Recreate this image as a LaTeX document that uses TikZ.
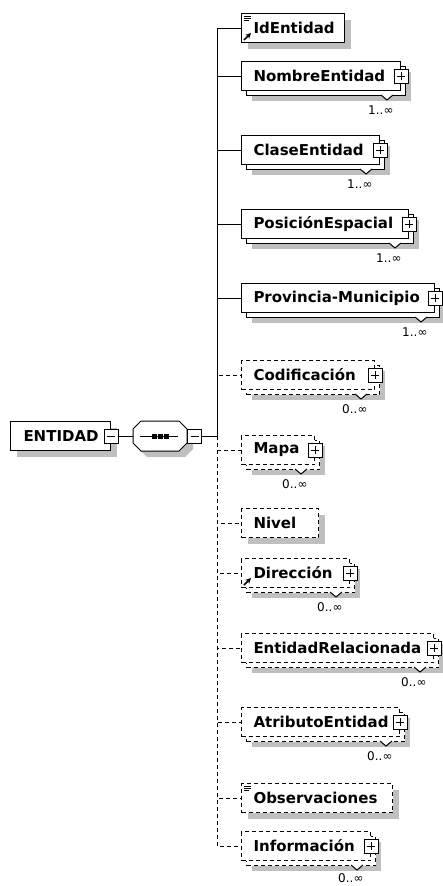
\documentclass[tikz,border=0pt]{standalone}
\usepackage{fontspec}
\setmainfont{DejaVu Sans}
\usetikzlibrary{positioning,shadows}
\hyphenpenalty=10000

\begin{document}
\begin{tikzpicture}[
    x=1pt, y=-1pt, line width=1pt,
    box/.style={draw, fill=white, anchor=west, minimum height=29, inner xsep=12,
        text width=#1, align=left, font=\fontsize{15}{17}\selectfont\bfseries},
    single/.style={box=#1, general shadow={fill=black!25, shadow xshift=6pt, shadow yshift=-6pt}},
    multi/.style={box=#1, general shadow={fill=black!25, shadow xshift=10pt, shadow yshift=-10pt},
        general shadow={draw, fill=white, shadow xshift=5pt, shadow yshift=-5pt}},
    optbox/.style={dash pattern=on 4pt off 3pt},
    optline/.style={dash pattern=on 4pt off 3pt},
    plusbox/.style={draw, solid, fill=white, minimum size=14, inner sep=0,
        path picture={\draw[line width=0.8pt] ([xshift=3pt]path picture bounding box.west) -- ([xshift=-3pt]path picture bounding box.east)
            ([yshift=-3pt]path picture bounding box.north) -- ([yshift=3pt]path picture bounding box.south);}},
    minusbox/.style={draw, fill=white, minimum size=14, inner sep=0,
        path picture={\draw[line width=0.8pt] ([xshift=3pt]path picture bounding box.west) -- ([xshift=-3pt]path picture bounding box.east);}},
    seqbox/.style={minimum width=54, minimum height=30, inner sep=0, outer sep=0},
    mult/.style={anchor=east, inner sep=0, font=\fontsize{12}{14}\selectfont},
    refarrow/.style={-stealth, line width=1.5pt}
]
    \useasboundingbox (0,0) rectangle (443,886);

    % Root element and sequence
    \node[single=74pt, inner xsep=13] (entidad) at (10,436) {ENTIDAD};
    \node[minusbox] (entidad-m) at (entidad.east) {};
    \node[seqbox] (seq) at (160,436) {};
    \fill[black!25] ([shift={(14,6)}]seq.north west) -- ++(38,0) -- ++(8,8) -- ++(0,14) -- ++(-8,8)
        -- ++(-38,0) -- ++(-8,-8) -- ++(0,-14) -- cycle;
    \draw[fill=white] ([shift={(8,0)}]seq.north west) -- ++(38,0) -- ++(8,8) -- ++(0,14) -- ++(-8,8)
        -- ++(-38,0) -- ++(-8,-8) -- ++(0,-14) -- cycle;
    \draw ([xshift=7]seq.west) -- ([xshift=-9]seq.east);
    \fill ([xshift=-6]seq.center) +(-2.5,-2.5) rectangle +(2.5,2.5);
    \fill (seq.center) +(-2.5,-2.5) rectangle +(2.5,2.5);
    \fill ([xshift=6]seq.center) +(-2.5,-2.5) rectangle +(2.5,2.5);
    \node[minusbox, right=0pt of seq] (seq-m) {};
    \coordinate (split) at (217,436);

    % Required children
    \node[single=79pt] (id) at (241,28) {IdEntidad};
    \node[multi=135pt] (nombre) at (241,76) {NombreEntidad};
    \node[multi=114pt] (clase) at (241,150) {ClaseEntidad};
    \node[multi=143pt] (posicion) at (241,224) {PosiciónEspacial};
    \node[multi=169pt] (provincia) at (241,298) {Provincia-Municipio};

    % Optional children
    \node[multi=109pt, optbox] (codificacion) at (241,375) {Codificación};
    \node[multi=49pt, optbox] (mapa) at (241,450) {Mapa};
    \node[single=53pt, optbox] (nivel) at (241,523) {Nivel};
    \node[multi=84pt, optbox] (direccion) at (241,573) {Dirección};
    \node[multi=168pt, optbox] (relacionada) at (241,648) {EntidadRelacionada};
    \node[multi=134pt, optbox] (atributo) at (241,722) {AtributoEntidad};
    \node[single=127pt, optbox] (observaciones) at (241,798) {Observaciones};
    \node[multi=105pt, optbox] (informacion) at (241,846) {Información};

    % Expand buttons
    \node[plusbox] (nombre-p) at (nombre.east) {};
    \node[plusbox] (clase-p) at (clase.east) {};
    \node[plusbox] (posicion-p) at (posicion.east) {};
    \node[plusbox] (provincia-p) at (provincia.east) {};
    \node[plusbox] (codificacion-p) at (codificacion.east) {};
    \node[plusbox] (mapa-p) at (mapa.east) {};
    \node[plusbox] (direccion-p) at (direccion.east) {};
    \node[plusbox] (relacionada-p) at (relacionada.east) {};
    \node[plusbox] (atributo-p) at (atributo.east) {};
    \node[plusbox] (informacion-p) at (informacion.east) {};

    % Occurrence markers
    \draw[fill=white] ([shift={(-20,4)}]nombre.south east) -- ++(6,5) -- ++(6,-5);
    \draw[fill=white] ([shift={(-20,4)}]clase.south east) -- ++(6,5) -- ++(6,-5);
    \draw[fill=white] ([shift={(-20,4)}]posicion.south east) -- ++(6,5) -- ++(6,-5);
    \draw[fill=white] ([shift={(-20,4)}]provincia.south east) -- ++(6,5) -- ++(6,-5);
    \draw[fill=white] ([shift={(-20,4)}]codificacion.south east) -- ++(6,5) -- ++(6,-5);
    \draw[fill=white] ([shift={(-20,4)}]mapa.south east) -- ++(6,5) -- ++(6,-5);
    \draw[fill=white] ([shift={(-20,4)}]direccion.south east) -- ++(6,5) -- ++(6,-5);
    \draw[fill=white] ([shift={(-20,4)}]relacionada.south east) -- ++(6,5) -- ++(6,-5);
    \draw[fill=white] ([shift={(-20,4)}]atributo.south east) -- ++(6,5) -- ++(6,-5);
    \draw[fill=white] ([shift={(-20,4)}]informacion.south east) -- ++(6,5) -- ++(6,-5);

    \node[mult] (nombre-n) at ([shift={(-7,19)}]nombre.south east) {1..∞};
    \node[mult] (clase-n) at ([shift={(-7,19)}]clase.south east) {1..∞};
    \node[mult] (posicion-n) at ([shift={(-7,19)}]posicion.south east) {1..∞};
    \node[mult] (provincia-n) at ([shift={(-7,19)}]provincia.south east) {1..∞};
    \node[mult] (codificacion-n) at ([shift={(-7,19)}]codificacion.south east) {0..∞};
    \node[mult] (mapa-n) at ([shift={(-7,19)}]mapa.south east) {0..∞};
    \node[mult] (direccion-n) at ([shift={(-7,19)}]direccion.south east) {0..∞};
    \node[mult] (relacionada-n) at ([shift={(-7,19)}]relacionada.south east) {0..∞};
    \node[mult] (atributo-n) at ([shift={(-7,19)}]atributo.south east) {0..∞};
    \node[mult] (informacion-n) at ([shift={(-7,17)}]informacion.south east) {0..∞};

    % Icons (text content, reference)
    \draw[line width=0.7pt] ([shift={(3,3)}]id.north west) -- ++(7,0) ++(-7,2) -- ++(7,0) ++(-7,2) -- ++(5,0);
    \draw[line width=0.7pt] ([shift={(3,3)}]observaciones.north west) -- ++(7,0) ++(-7,2) -- ++(7,0) ++(-7,2) -- ++(5,0);
    \draw[refarrow] ([shift={(3,-3)}]id.south west) -- ++(7,-7);
    \draw[refarrow] ([shift={(3,-3)}]direccion.south west) -- ++(7,-7);

    % Connections
    \draw (entidad-m) -- (seq);
    \draw (seq-m) -- (split);
    \draw (split) |- (id.west)
          (split) |- (nombre.west)
          (split) |- (clase.west)
          (split) |- (posicion.west)
          (split) |- (provincia.west);
    \draw[optline] (split) |- (codificacion.west)
          (split) |- (mapa.west)
          (split) |- (nivel.west)
          (split) |- (direccion.west)
          (split) |- (relacionada.west)
          (split) |- (atributo.west)
          (split) |- (observaciones.west)
          (split) |- (informacion.west);
\end{tikzpicture}
\end{document}
